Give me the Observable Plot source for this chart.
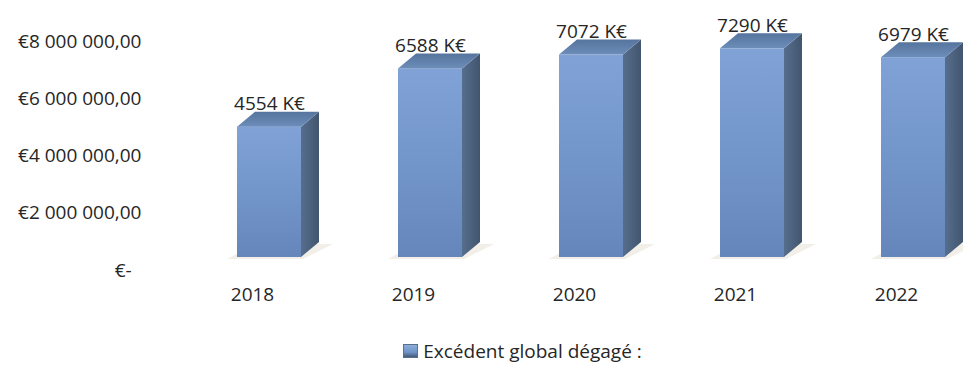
<!DOCTYPE html>
<html>
<head>
<meta charset="utf-8">
<script src="https://cdn.jsdelivr.net/npm/d3@7"></script>
<script src="https://cdn.jsdelivr.net/npm/@observablehq/plot@0.6"></script>
<style>
  body { margin: 0; background: #fff; font-family: "Open Sans", sans-serif; overflow: hidden; }
  #chart svg { display: block; }
  #legend { height: 28px; margin-top: 2px; display: flex; align-items: center; justify-content: center;
            font-family: "Open Sans", sans-serif; font-size: 19px; line-height: 24px; color: #262626; padding-left: 82px; }
  #legend svg { margin-right: 5px; }
</style>
</head>
<body>
<div id="chart"></div>
<div id="legend"></div>
<script>
// ---- data ----
const years = ["2018", "2019", "2020", "2021", "2022"];
const values = [4554000, 6588000, 7072000, 7290000, 6979000];
const valueLabels = ["4554 K€", "6588 K€", "7072 K€", "7290 K€", "6979 K€"];
const yTicks = [0, 2000000, 4000000, 6000000, 8000000];
const seriesName = "Excédent global dégagé :";

const data = years.map((year, i) => ({year, value: values[i], label: valueLabels[i]}));

const frLocale = d3.formatLocale({decimal: ",", thousands: "\u00a0", grouping: [3], currency: ["€", ""]});
const fmtMoney = frLocale.format("$,.2f");
const tickText = v => v === 0 ? "€-\u00a0\u00a0" : fmtMoney(v);

const DX = 18, DY = 15; // 3D depth offsets

const plot = Plot.plot({
  width: 963,
  height: 335,
  marginLeft: 219,
  marginRight: 1,
  marginTop: 28,
  marginBottom: 78,
  x: {domain: years, paddingInner: 0.604, paddingOuter: 0.1, axis: null},
  y: {domain: [0, 8000000], axis: null},
  style: {fontFamily: "Open Sans, sans-serif", fontSize: "19px", color: "#262626", background: "white", overflow: "visible"},
  marks: [
    Plot.barY(data, {x: "year", y: "value", fill: "url(#frontGrad)"}),
    Plot.text(data, {x: "year", y: "value", text: "label", dy: -17, lineAnchor: "bottom", fontSize: 19, fill: "#262626"}),
    Plot.text(yTicks, {y: d => d, frameAnchor: "left", textAnchor: "end", dx: -78, dy: 13, text: tickText, fontSize: 19, fill: "#262626"}),
    Plot.text(years, {x: d => d, frameAnchor: "bottom", dy: 43, dx: -17, text: d => d, fontSize: 19, fill: "#262626"})
  ]
});

document.getElementById("chart").appendChild(plot);

// gradients + 3D faces derived from the bars Plot drew
const svg = d3.select(plot.tagName.toLowerCase() === "svg" ? plot : plot.querySelector("svg"));
const defs = svg.insert("defs", ":first-child");
function grad(id, stops, x2 = 0, y2 = 1) {
  const g = defs.append("linearGradient").attr("id", id).attr("x1", 0).attr("y1", 0).attr("x2", x2).attr("y2", y2);
  stops.forEach(([o, c]) => g.append("stop").attr("offset", o).attr("stop-color", c));
}
grad("frontGrad", [[0, "#80a2d6"], [0.5, "#7396ca"], [1, "#6586ba"]]);
grad("sideGrad", [[0, "#566e8d"], [1, "#42556e"]], 1, 0);
grad("topGrad", [[0, "#55759e"], [1, "#6d8dba"]], 0, 1);

const barG = svg.select('g[aria-label="bar"]');
const rects = barG.selectAll("rect").nodes();
rects.forEach(node => {
  const x = +node.getAttribute("x"), y = +node.getAttribute("y");
  const w = +node.getAttribute("width"), h = +node.getAttribute("height");
  const pts = a => a.map(p => p.join(",")).join(" ");
  // soft floor shadow
  barG.insert("polygon", ":first-child")
    .attr("points", pts([[x - 10, y + h + 2], [x + w + 2, y + h + 2], [x + w + DX + 14, y + h - DY + 2], [x + DX, y + h - DY + 2]]))
    .attr("fill", "#efeae2").attr("opacity", 0.8);
  barG.append("polygon")
    .attr("points", pts([[x + w, y], [x + w + DX, y - DY], [x + w + DX, y + h - DY], [x + w, y + h]]))
    .attr("fill", "url(#sideGrad)");
  barG.append("polygon")
    .attr("points", pts([[x, y], [x + DX, y - DY], [x + w + DX, y - DY], [x + w, y]]))
    .attr("fill", "url(#topGrad)");
});

// legend
const legend = d3.select("#legend");
const icon = legend.append("svg").attr("width", 15).attr("height", 14);
const idefs = icon.append("defs");
const ig = idefs.append("linearGradient").attr("id", "iconGrad").attr("x1", 0).attr("y1", 0).attr("x2", 0).attr("y2", 1);
ig.append("stop").attr("offset", 0).attr("stop-color", "#8fb0dd");
ig.append("stop").attr("offset", 0.6).attr("stop-color", "#6f92c6");
ig.append("stop").attr("offset", 1).attr("stop-color", "#3f5570");
icon.append("rect").attr("x", 0.5).attr("y", 0.5).attr("width", 14).attr("height", 13).attr("fill", "url(#iconGrad)").attr("stroke", "#5a6f8a");
legend.append("span").text(seriesName);
</script>
</body>
</html>
